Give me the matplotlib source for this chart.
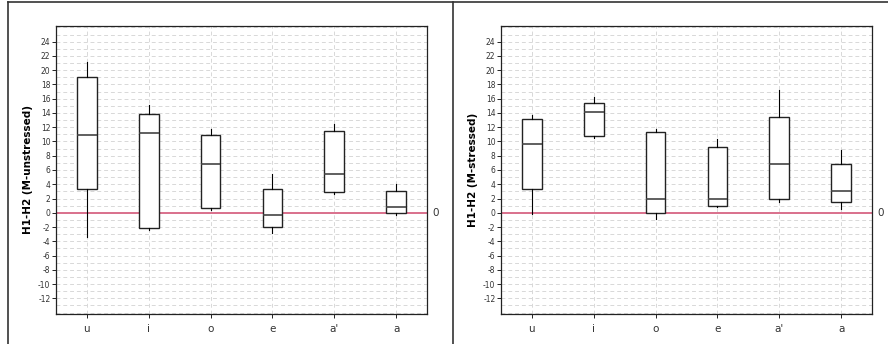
import numpy as np
import matplotlib.pyplot as plt
from matplotlib.lines import Line2D

# Data
cats = ["u", "i", "o", "e", "a'", "a"]

# unstressed: whislo, q1, med, q3, whishi
unstr_lo = [-3.4, -2.4, 0.4, -2.9, 2.6, -0.3]
unstr_q1 = [3.3, -2.2, 0.6, -2.0, 2.9, -0.1]
unstr_med = [10.9, 11.2, 6.9, -0.3, 5.5, 0.8]
unstr_q3 = [19.1, 13.8, 10.9, 3.4, 11.5, 3.1]
unstr_hi = [21.1, 15.1, 11.8, 5.5, 12.4, 4.1]

# stressed
str_lo = [-0.2, 10.5, -0.9, 0.8, 1.5, 0.5]
str_q1 = [3.3, 10.7, 0.0, 1.0, 1.9, 1.5]
str_med = [9.7, 14.2, 1.9, 2.0, 6.9, 3.0]
str_q3 = [13.2, 15.4, 11.4, 9.2, 13.5, 6.8]
str_hi = [13.7, 16.3, 11.8, 10.3, 17.2, 8.8]

yticks = list(range(-12, 25, 2))


def make_stats(lo, q1, med, q3, hi):
    out = []
    for i in range(len(cats)):
        out.append({"whislo": lo[i], "q1": q1[i], "med": med[i],
                    "q3": q3[i], "whishi": hi[i], "fliers": []})
    return out


fig = plt.figure(figsize=(8.88, 3.44), dpi=100)

panels = [
    (56 / 888, "H1-H2 (M-unstressed)",
     make_stats(unstr_lo, unstr_q1, unstr_med, unstr_q3, unstr_hi)),
    (501 / 888, "H1-H2 (M-stressed)",
     make_stats(str_lo, str_q1, str_med, str_q3, str_hi)),
]

for x0, label, stats in panels:
    ax = fig.add_axes([x0, 30 / 344, 371 / 888, 288 / 344])
    ax.set_axisbelow(True)
    # dashed grid, one line per unit
    for y in range(-14, 27):
        ax.axhline(y, color="#d8d8d8", lw=0.7, ls=(0, (4, 3)), zorder=0)
    for i in range(len(cats)):
        ax.axvline(i, color="#d8d8d8", lw=0.7, ls=(0, (4, 3)), zorder=0)
    ax.axhline(0, color="#d9708c", lw=1.4, zorder=1)
    ax.bxp(stats, positions=range(len(cats)), widths=0.32, showcaps=False,
           showfliers=False, patch_artist=True,
           boxprops=dict(facecolor="white", edgecolor="#222222", lw=1.0),
           medianprops=dict(color="#444444", lw=1.2),
           whiskerprops=dict(color="black", lw=0.8), zorder=2)
    ax.set_xlim(-0.5, 5.5)
    ax.set_ylim(-14.2, 26.2)
    ax.set_xticks(range(len(cats)))
    ax.set_xticklabels(cats, fontsize=7.5, color="#333333")
    ax.set_yticks(yticks)
    ax.set_yticklabels([str(v) for v in yticks], fontsize=5.5, color="#333333")
    ax.tick_params(axis="y", length=3, width=0.6, pad=1)
    ax.tick_params(axis="x", length=3, width=0.6, pad=4)
    ax.set_ylabel(label, fontsize=7.5, fontweight="bold", labelpad=4)
    for s in ax.spines.values():
        s.set_linewidth(0.9)
        s.set_color("#222222")
    ax.text(1.015, 0, "0", transform=ax.get_yaxis_transform(),
            fontsize=7.5, color="#333333", va="center", ha="left")

# outer frame lines
fig.add_artist(Line2D([8 / 888, 1], [1 - 2 / 344, 1 - 2 / 344], color="#333333", lw=1.2))
fig.add_artist(Line2D([8 / 888, 8 / 888], [0, 1 - 2 / 344], color="#333333", lw=1.2))
fig.add_artist(Line2D([453 / 888, 453 / 888], [0, 1 - 2 / 344], color="#333333", lw=1.2))

fig.savefig("out.png", dpi=100)
